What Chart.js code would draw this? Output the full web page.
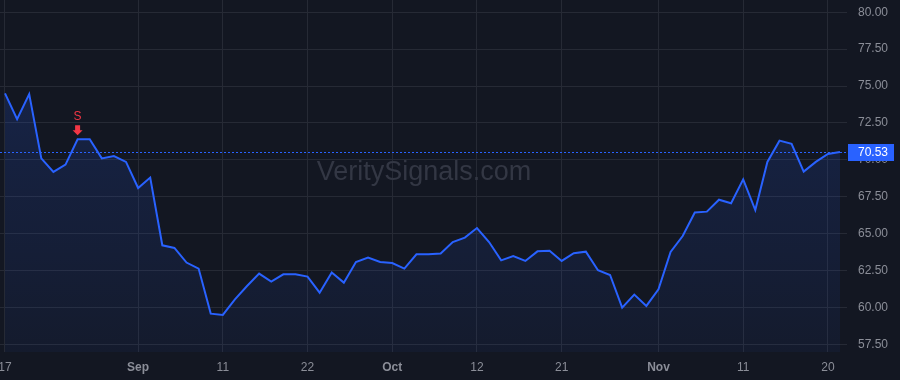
<!DOCTYPE html>
<html>
<head>
<meta charset="utf-8">
<script src="https://cdn.jsdelivr.net/npm/chart.js@4.4.1/dist/chart.umd.min.js"></script>
<style>
  html, body { margin: 0; padding: 0; background: #131722; }
  canvas { display: block; }
</style>
</head>
<body>
<canvas id="c" width="900" height="380"></canvas>
<script>
// ---- data ----
const values = [
  74.50, 72.75, 74.45, 70.10, 69.18, 69.68, 71.39, 71.39, 70.10, 70.26,
  69.86, 68.09, 68.80, 64.21, 64.03, 63.04, 62.63, 59.58, 59.49, 60.55,
  61.45, 62.29, 61.75, 62.24, 62.24, 62.09, 61.00, 62.36, 61.68, 63.08,
  63.38, 63.08, 63.01, 62.63, 63.60, 63.60, 63.65, 64.43, 64.73, 65.38,
  64.43, 63.19, 63.48, 63.15, 63.80, 63.84, 63.15, 63.67, 63.78, 62.52,
  62.20, 59.99, 60.87, 60.10, 61.23, 63.76, 64.84, 66.43, 66.49, 67.30,
  67.06, 68.68, 66.60, 69.86, 71.30, 71.08, 69.20, 69.86, 70.40, 70.53
];
const xTickIndex = [0, 11, 18, 25, 32, 39, 46, 54, 61, 68];
const xTickLabels = ['17', 'Sep', '11', '22', 'Oct', '12', '21', 'Nov', '11', '20'];
const monthLabels = ['Sep', 'Oct', 'Nov'];
const yTicks = [57.5, 60, 62.5, 65, 67.5, 70, 72.5, 75, 77.5, 80];
const lastPrice = 70.53;
const signalIndex = [6];
const signalText = ['S'];
const watermark = 'VeritySignals.com';

// ---- styles ----
const BG = '#131722';
const GRID = '#262a35';
const TEXT = '#8b8e98';
const LINE = '#2962ff';
const RED = '#f23645';
const FONT = "'Liberation Sans', Arial, sans-serif";

const points = values.map((v, i) => ({ x: i, y: v }));

const bgPlugin = {
  id: 'bg',
  beforeDraw(chart) {
    const ctx = chart.ctx;
    ctx.save();
    ctx.fillStyle = BG;
    ctx.fillRect(0, 0, chart.width, chart.height);
    ctx.restore();
  },
  beforeDatasetsDraw(chart) {
    const ctx = chart.ctx;
    const a = chart.chartArea;
    const y = chart.scales.y.getPixelForValue(lastPrice);
    ctx.save();
    // watermark
    ctx.font = "27px " + FONT;
    ctx.fillStyle = '#333744';
    ctx.textAlign = 'center';
    ctx.textBaseline = 'middle';
    ctx.fillText(watermark, 424, 173);
    // price line
    ctx.strokeStyle = LINE;
    ctx.lineWidth = 1;
    ctx.setLineDash([2, 2]);
    ctx.beginPath();
    const yy = Math.round(y) + 0.5;
    ctx.moveTo(a.left, yy);
    ctx.lineTo(a.right + 7, yy);
    ctx.stroke();
    ctx.restore();
  },
  afterDraw(chart) {
    const ctx = chart.ctx;
    const ys = chart.scales.y;
    const xs = chart.scales.x;
    const y = ys.getPixelForValue(lastPrice);
    ctx.save();
    // price label
    ctx.fillStyle = LINE;
    ctx.fillRect(ys.left + 8, Math.round(y) - 8, 46, 17);
    ctx.fillStyle = '#ffffff';
    ctx.font = "12px " + FONT;
    ctx.textAlign = 'left';
    ctx.textBaseline = 'middle';
    ctx.fillText(lastPrice.toFixed(2), ys.left + 18, Math.round(y) + 0.5);
    // signal markers
    signalIndex.forEach((idx, k) => {
      const px = xs.getPixelForValue(idx);
      const py = ys.getPixelForValue(values[idx]);
      const tip = py - 4;
      ctx.fillStyle = RED;
      ctx.beginPath();
      ctx.moveTo(px - 2.5, tip - 10);
      ctx.lineTo(px + 2.5, tip - 10);
      ctx.lineTo(px + 2.5, tip - 5);
      ctx.lineTo(px + 5, tip - 5);
      ctx.lineTo(px, tip);
      ctx.lineTo(px - 5, tip - 5);
      ctx.lineTo(px - 2.5, tip - 5);
      ctx.closePath();
      ctx.fill();
      ctx.font = "12px " + FONT;
      ctx.textAlign = 'center';
      ctx.textBaseline = 'middle';
      ctx.fillText(signalText[k], px, tip - 19);
    });
    ctx.restore();
  }
};

new Chart(document.getElementById('c'), {
  type: 'line',
  data: {
    datasets: [{
      data: points,
      borderColor: LINE,
      borderWidth: 2,
      pointRadius: 0,
      tension: 0,
      fill: 'start',
      backgroundColor(ctx) {
        const a = ctx.chart.chartArea;
        if (!a) return 'rgba(41,98,255,0.1)';
        const g = ctx.chart.ctx.createLinearGradient(0, a.top, 0, a.bottom);
        g.addColorStop(0, 'rgba(41,98,255,0.20)');
        g.addColorStop(1, 'rgba(41,98,255,0.05)');
        return g;
      }
    }]
  },
  options: {
    responsive: false,
    animation: false,
    devicePixelRatio: 1,
    layout: { padding: 0 },
    plugins: { legend: { display: false }, tooltip: { enabled: false } },
    scales: {
      x: {
        type: 'linear',
        min: -0.413,
        max: values.length - 1,
        afterBuildTicks(scale) {
          scale.ticks = xTickIndex.map(v => ({ value: v }));
        },
        afterFit(scale) {
          scale.height = 28;
          scale.paddingLeft = 0;
          scale.paddingRight = 0;
        },
        grid: { color: GRID, drawTicks: false, lineWidth: 1 },
        border: { display: false },
        ticks: {
          autoSkip: false,
          maxRotation: 0,
          padding: 8,
          color: TEXT,
          font(ctx) {
            const lbl = ctx.tick ? xTickLabels[xTickIndex.indexOf(ctx.tick.value)] : '';
            return { family: FONT, size: 12, weight: monthLabels.includes(lbl) ? 'bold' : 'normal' };
          },
          callback(v) {
            const k = xTickIndex.indexOf(v);
            return k >= 0 ? xTickLabels[k] : '';
          }
        }
      },
      y: {
        position: 'right',
        min: 56.98,
        max: 80.83,
        afterBuildTicks(scale) {
          scale.ticks = yTicks.map(v => ({ value: v }));
        },
        afterFit(scale) {
          scale.width = 60;
          scale.paddingTop = 0;
          scale.paddingBottom = 0;
        },
        grid: { color: GRID, drawTicks: true, tickLength: 7, lineWidth: 1 },
        border: { display: false },
        ticks: {
          padding: 11,
          color: TEXT,
          font: { family: FONT, size: 12 },
          callback(v) { return Number(v).toFixed(2); }
        }
      }
    }
  },
  plugins: [bgPlugin]
});
</script>
</body>
</html>
